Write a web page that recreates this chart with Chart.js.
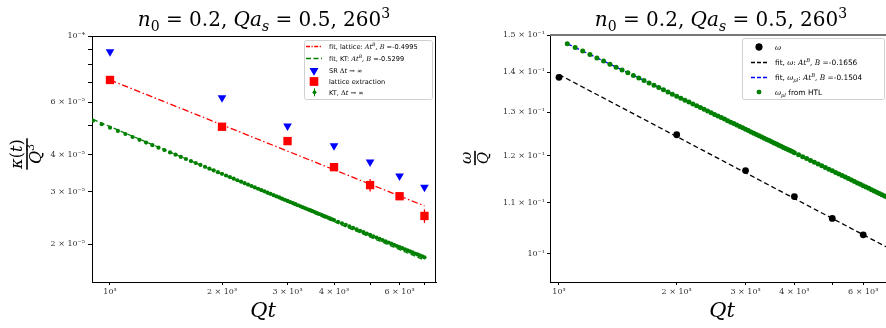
<!DOCTYPE html>
<html>
<head>
<meta charset="utf-8">
<script src="https://cdn.jsdelivr.net/npm/chart.js@4.4.0/dist/chart.umd.min.js"></script>
<style>
html, body { margin: 0; padding: 0; background: #fff; }
#wrap { position: relative; width: 886px; height: 328px; overflow: hidden; }
#left { position: absolute; left: 0; top: 0; }
#right { position: absolute; left: 443px; top: 0; }
</style>
</head>
<body>
<div id="wrap">
<canvas id="left" width="443" height="328"></canvas>
<canvas id="right" width="460" height="328"></canvas>
</div>
<script>
// ---- left panel: kappa(t)/Q^3 ----
const latticeT = [1000, 2000, 3000, 4000, 5000, 6000, 7000];
const srKappa = [8.86e-5, 6.21e-5, 4.99e-5, 4.28e-5, 3.78e-5, 3.39e-5, 3.11e-5];
const latticeKappa = [7.12e-5, 4.96e-5, 4.44e-5, 3.63e-5, 3.16e-5, 2.90e-5, 2.49e-5];
const latticeErr = [0.05e-5, 0.06e-5, 0.08e-5, 0.08e-5, 0.15e-5, 0.06e-5, 0.13e-5];
const fitLatticeT = [1000, 7000];
const fitLatticeKappa = [7.12e-5, 2.69e-5];
const fitKtT = [900, 7000];
const fitKtKappa = [5.25e-5, 1.77e-5];
const ktT = [900, 950, 1000, 1050, 1100, 1150, 1200, 1250, 1300, 1350, 1400, 1450, 1500, 1550, 1600, 1650,
  1700, 1750, 1800, 1850, 1900, 1950, 2000, 2050, 2100, 2150, 2200, 2250, 2300, 2350, 2400, 2450, 2500,
  2550, 2600, 2650, 2700, 2750, 2800, 2850, 2900, 2950, 3000, 3050, 3100, 3150, 3200, 3250, 3300, 3350,
  3400, 3450, 3500, 3550, 3600, 3650, 3700, 3750, 3800, 3850, 3900, 3950, 4000, 4100, 4200, 4300, 4400,
  4500, 4600, 4700, 4800, 4900, 5000, 5100, 5200, 5300, 5400, 5500, 5600, 5700, 5800, 5900, 6000, 6100,
  6200, 6300, 6400, 6500, 6600, 6700, 6800, 6900, 7000];
const ktKappa = [5.200e-5, 5.057e-5, 4.925e-5, 4.803e-5, 4.689e-5, 4.583e-5, 4.484e-5, 4.390e-5, 4.303e-5,
  4.220e-5, 4.142e-5, 4.067e-5, 3.997e-5, 3.930e-5, 3.866e-5, 3.806e-5, 3.748e-5, 3.692e-5, 3.639e-5,
  3.588e-5, 3.539e-5, 3.492e-5, 3.447e-5, 3.403e-5, 3.361e-5, 3.321e-5, 3.281e-5, 3.244e-5, 3.207e-5,
  3.172e-5, 3.138e-5, 3.104e-5, 3.072e-5, 3.041e-5, 3.011e-5, 2.981e-5, 2.953e-5, 2.925e-5, 2.898e-5,
  2.872e-5, 2.846e-5, 2.821e-5, 2.797e-5, 2.773e-5, 2.750e-5, 2.727e-5, 2.705e-5, 2.684e-5, 2.663e-5,
  2.642e-5, 2.622e-5, 2.603e-5, 2.583e-5, 2.565e-5, 2.546e-5, 2.528e-5, 2.511e-5, 2.493e-5, 2.476e-5,
  2.460e-5, 2.443e-5, 2.427e-5, 2.412e-5, 2.381e-5, 2.352e-5, 2.324e-5, 2.296e-5, 2.270e-5, 2.244e-5,
  2.219e-5, 2.196e-5, 2.172e-5, 2.150e-5, 2.128e-5, 2.107e-5, 2.086e-5, 2.066e-5, 2.047e-5, 2.028e-5,
  2.010e-5, 1.992e-5, 1.974e-5, 1.957e-5, 1.941e-5, 1.924e-5, 1.909e-5, 1.893e-5, 1.878e-5, 1.863e-5,
  1.849e-5, 1.835e-5, 1.821e-5, 1.808e-5];

// ---- right panel: omega/Q ----
const omegaT = [1000, 2000, 3000, 4000, 5000, 6000, 7000];
const omega = [0.1387, 0.1247, 0.1167, 0.1112, 0.1068, 0.1036, 0.1004];
const fitOmegaT = [1000, 7000];
const fitOmega = [0.1394, 0.1010];
const fitPlT = [1050, 7000];
const fitPl = [0.1476, 0.1110];
const plT = [1050, 1100, 1150, 1200, 1250, 1300, 1350, 1400, 1450, 1500, 1550, 1600, 1650, 1700, 1750,
  1800, 1850, 1900, 1950, 2000, 2050, 2100, 2150, 2200, 2250, 2300, 2350, 2400, 2450, 2500, 2550, 2600,
  2650, 2700, 2750, 2800, 2850, 2900, 2950, 3000, 3050, 3100, 3150, 3200, 3250, 3300, 3350, 3400, 3450,
  3500, 3550, 3600, 3650, 3700, 3750, 3800, 3850, 3900, 3950, 4000, 4100, 4200, 4300, 4400, 4500, 4600,
  4700, 4800, 4900, 5000, 5100, 5200, 5300, 5400, 5500, 5600, 5700, 5800, 5900, 6000, 6100, 6200, 6300,
  6400, 6500, 6600, 6700, 6800, 6900, 7000, 7100, 7200];
const omegaPl = [0.14760, 0.14657, 0.14559, 0.14466, 0.14377, 0.14292, 0.14211, 0.14133, 0.14058, 0.13987,
  0.13918, 0.13851, 0.13787, 0.13725, 0.13665, 0.13607, 0.13551, 0.13497, 0.13444, 0.13393, 0.13343,
  0.13294, 0.13247, 0.13201, 0.13157, 0.13113, 0.13071, 0.13029, 0.12989, 0.12949, 0.12910, 0.12873,
  0.12836, 0.12800, 0.12764, 0.12730, 0.12696, 0.12662, 0.12630, 0.12598, 0.12566, 0.12536, 0.12505,
  0.12476, 0.12446, 0.12418, 0.12390, 0.12362, 0.12335, 0.12308, 0.12282, 0.12256, 0.12230, 0.12205,
  0.12181, 0.12156, 0.12132, 0.12109, 0.12086, 0.12063, 0.12018, 0.11974, 0.11932, 0.11890, 0.11850,
  0.11811, 0.11773, 0.11735, 0.11699, 0.11663, 0.11629, 0.11594, 0.11561, 0.11529, 0.11497, 0.11465,
  0.11435, 0.11405, 0.11376, 0.11347, 0.11318, 0.11291, 0.11263, 0.11237, 0.11211, 0.11185, 0.11159,
  0.11134, 0.11110, 0.11086, 0.11062, 0.11039];

// ---- ticks ----
const xTicks = [1000, 2000, 3000, 4000, 5000, 6000, 7000];
const xTickLabels = ['10³', '2 × 10³', '3 × 10³', '4 × 10³', '', '6 × 10³', ''];
const leftYTicks = [1e-4, 9e-5, 8e-5, 7e-5, 6e-5, 5e-5, 4e-5, 3e-5, 2e-5];
const leftYLabels = ['10⁻⁴', '', '', '', '6 × 10⁻⁵', '', '4 × 10⁻⁵', '3 × 10⁻⁵', '2 × 10⁻⁵'];
const rightYTicks = [0.15, 0.14, 0.13, 0.12, 0.11, 0.1];
const rightYLabels = ['1.5 × 10⁻¹', '1.4 × 10⁻¹', '1.3 × 10⁻¹', '1.2 × 10⁻¹', '1.1 × 10⁻¹', '10⁻¹'];

const pts = (xs, ys) => xs.map((x, i) => ({ x: x, y: ys[i] }));

// draw a row of text pieces: style letters r=serif, i=italic serif, s=sans, _=sub, ^=sup
function drawRuns(ctx, parts, x, y, size, align) {
  const items = [];
  let w = 0;
  for (const [t, st] of parts) {
    const sub = st.includes('_'), sup = st.includes('^');
    const sz = (sub || sup) ? size * 0.7 : size;
    const fam = st.includes('s') ? '"DejaVu Sans"' : '"DejaVu Serif"';
    const font = (st.includes('i') ? 'italic ' : '') + sz + 'px ' + fam;
    ctx.font = font;
    const tw = ctx.measureText(t).width;
    items.push({ t: t, font: font, dy: sub ? size * 0.25 : (sup ? -size * 0.42 : 0), w: tw });
    w += tw;
  }
  let cx = align === 'center' ? x - w / 2 : x;
  ctx.textAlign = 'left';
  ctx.textBaseline = 'alphabetic';
  for (const it of items) {
    ctx.font = it.font;
    ctx.fillText(it.t, cx, y + it.dy);
    cx += it.w;
  }
  return w;
}

const titleParts = [['n', 'i'], ['0', 'r_'], [' = 0.2, ', 'r'], ['Q', 'i'], ['a', 'i'], ['s', 'i_'],
  [' = 0.5, 260', 'r'], ['3', 'r^']];

function handle(ctx, h, x, y) {
  ctx.save();
  if (h.line) {
    ctx.strokeStyle = h.color;
    ctx.lineWidth = h.width || 1.3;
    ctx.setLineDash(h.dash || []);
    ctx.beginPath();
    ctx.moveTo(x - 8, y);
    ctx.lineTo(x + 8, y);
    ctx.stroke();
  } else {
    ctx.fillStyle = h.color;
    ctx.strokeStyle = h.color;
    if (h.errbar) {
      ctx.lineWidth = 1;
      ctx.beginPath();
      ctx.moveTo(x + 0.5, y - 4);
      ctx.lineTo(x + 0.5, y + 4);
      ctx.stroke();
    }
    Chart.helpers.drawPoint(ctx, { pointStyle: h.style, radius: h.r, rotation: h.rot || 0, borderWidth: 0 }, x + (h.errbar ? 0.5 : 0), y);
    ctx.fill();
  }
  ctx.restore();
}

function drawLegend(ctx, lg) {
  ctx.save();
  ctx.fillStyle = 'rgba(255,255,255,0.85)';
  ctx.strokeStyle = '#d0d0d0';
  ctx.lineWidth = 1;
  ctx.beginPath();
  ctx.roundRect(lg.x + 0.5, lg.y + 0.5, lg.w, lg.h, 2);
  ctx.fill();
  ctx.stroke();
  ctx.fillStyle = '#000';
  lg.rows.forEach(r => {
    handle(ctx, r.h, lg.hx, r.y);
    drawRuns(ctx, r.text, lg.tx, r.y + lg.size * 0.36, lg.size, 'left');
  });
  ctx.restore();
}

function decor(cfg) {
  return {
    id: 'decor',
    afterDatasetsDraw(chart) {
      if (!cfg.errors) return;
      const ctx = chart.ctx, xs = chart.scales.x, ys = chart.scales.y;
      ctx.save();
      ctx.strokeStyle = '#ff0000';
      ctx.lineWidth = 1.3;
      cfg.errors.t.forEach((t, i) => {
        const px = xs.getPixelForValue(t);
        ctx.beginPath();
        ctx.moveTo(px, ys.getPixelForValue(cfg.errors.v[i] - cfg.errors.e[i]));
        ctx.lineTo(px, ys.getPixelForValue(cfg.errors.v[i] + cfg.errors.e[i]));
        ctx.stroke();
      });
      ctx.restore();
    },
    afterDraw(chart) {
      const ctx = chart.ctx, a = chart.chartArea;
      ctx.save();
      // top / right spines
      ctx.strokeStyle = cfg.topColor || '#000';
      ctx.lineWidth = cfg.topWidth || 1;
      ctx.beginPath();
      const L = Math.round(a.left) + 0.5, T = Math.round(a.top) + (cfg.topWidth === 2 ? 0 : 0.5), R = Math.round(a.right) - 0.5;
      ctx.moveTo(L - 0.5, T);
      ctx.lineTo(R, T);
      ctx.stroke();
      ctx.strokeStyle = '#000';
      ctx.lineWidth = 1;
      ctx.beginPath();
      ctx.moveTo(R, Math.round(a.top));
      ctx.lineTo(R, Math.round(a.bottom) + 0.5);
      ctx.stroke();
      // title
      ctx.fillStyle = '#000';
      drawRuns(ctx, titleParts, cfg.titleX, 26, 20, 'center');
      // x label
      ctx.font = 'italic 21px "DejaVu Serif"';
      ctx.textAlign = 'center';
      ctx.textBaseline = 'alphabetic';
      ctx.fillText('Qt', (a.left + a.right) / 2 - 1, 317);
      // y label as fraction, rotated
      ctx.save();
      ctx.translate(cfg.yl.x, cfg.yl.y);
      ctx.rotate(-Math.PI / 2);
      const wn = drawRuns(ctx, cfg.yl.num, -1000, -1000, cfg.yl.size, 'left');
      const wd = drawRuns(ctx, cfg.yl.den, -1000, -1000, cfg.yl.size, 'left');
      ctx.fillStyle = '#000';
      drawRuns(ctx, cfg.yl.num, 0, -cfg.yl.size * 0.3, cfg.yl.size, 'center');
      drawRuns(ctx, cfg.yl.den, 0, cfg.yl.size * 0.85, cfg.yl.size, 'center');
      const bw = Math.max(wn, wd) + 2;
      ctx.fillRect(-bw / 2, -0.8, bw, 1.6);
      ctx.restore();
      drawLegend(ctx, cfg.legend);
      ctx.restore();
    }
  };
}

function logAxis(min, max, ticks, labels, size, tickLen, pad) {
  return {
    type: 'logarithmic',
    min: min,
    max: max,
    bounds: 'data',
    afterBuildTicks: s => { s.ticks = ticks.map(v => ({ value: v })); },
    afterFit: size,
    grid: { drawOnChartArea: false, drawTicks: true, tickLength: tickLen, color: '#000', lineWidth: 1 },
    border: { display: true, color: '#000', width: 1 },
    ticks: {
      autoSkip: false, maxRotation: 0, minRotation: 0, padding: pad,
      color: '#333', font: { family: 'DejaVu Serif', size: 8 },
      callback: (v, i) => labels[i]
    }
  };
}

const common = {
  responsive: false,
  animation: false,
  plugins: { legend: { display: false }, tooltip: { enabled: false } }
};

new Chart(document.getElementById('left'), {
  type: 'scatter',
  data: {
    datasets: [
      { data: pts(latticeT, latticeKappa), pointStyle: 'rect', pointRadius: 5.9, backgroundColor: '#ff0000', borderWidth: 0, pointBorderWidth: 0, order: 0 },
      { data: pts(latticeT, srKappa), pointStyle: 'triangle', rotation: 180, pointRadius: 5, backgroundColor: '#0000ff', borderWidth: 0, pointBorderWidth: 0, order: 1 },
      { data: pts(ktT, ktKappa), pointStyle: 'circle', pointRadius: 2.1, backgroundColor: '#008000', borderWidth: 0, pointBorderWidth: 0, order: 2 },
      { data: pts(fitLatticeT, fitLatticeKappa), showLine: true, pointRadius: 0, borderColor: '#ff0000', borderWidth: 1.3, borderDash: [6.5, 2.5, 1.5, 2.5], order: 3 },
      { data: pts(fitKtT, fitKtKappa), showLine: true, pointRadius: 0, borderColor: '#008000', borderWidth: 1.3, borderDash: [5, 2.5], order: 4 }
    ]
  },
  options: Object.assign({}, common, {
    layout: { padding: { left: 0, right: 7, top: 36, bottom: 0 } },
    scales: {
      x: logAxis(894.6, 7518, xTicks, xTickLabels, s => { s.height = 46; }, 3, 2),
      y: logAxis(1.4947e-5, 1e-4, leftYTicks, leftYLabels, s => { s.width = 92; }, 4, 3)
    }
  }),
  plugins: [decor({
    titleX: 264,
    errors: { t: latticeT, v: latticeKappa, e: latticeErr },
    yl: { x: 27, y: 154, size: 16, num: [['κ', 'i'], ['(', 'r'], ['t', 'i'], [')', 'r']], den: [['Q', 'i'], ['3', 'r^']] },
    legend: {
      x: 304, y: 40, w: 128, h: 59, hx: 314, tx: 329, size: 6.6,
      rows: [
        { y: 46.5, h: { line: true, color: '#ff0000', dash: [4, 1.5, 1.2, 1.5] }, text: [['fit, lattice: ', 's'], ['At', 'i'], ['B', 'i^'], [', ', 'r'], ['B', 'i'], [' =', 'r'], ['-0.4995', 's']] },
        { y: 58.5, h: { line: true, color: '#008000', dash: [5, 2.5] }, text: [['fit, KT: ', 's'], ['At', 'i'], ['B', 'i^'], [', ', 'r'], ['B', 'i'], [' =', 'r'], ['-0.5299', 's']] },
        { y: 70.5, h: { style: 'triangle', rot: 180, r: 5, color: '#0000ff' }, text: [['SR ', 's'], ['Δ', 'r'], ['t', 'i'], [' → ∞', 'r']] },
        { y: 81.5, h: { style: 'rect', r: 5.9, color: '#ff0000' }, text: [['lattice extraction', 's']] },
        { y: 92.3, h: { style: 'circle', r: 1.8, color: '#008000', errbar: true }, text: [['KT, ', 's'], ['Δ', 'r'], ['t', 'i'], [' → ∞', 'r']] }
      ]
    }
  })]
});

new Chart(document.getElementById('right'), {
  type: 'scatter',
  data: {
    datasets: [
      { data: pts(omegaT, omega), pointStyle: 'circle', pointRadius: 3.4, backgroundColor: '#000', borderWidth: 0, pointBorderWidth: 0, order: 0 },
      { data: pts(plT, omegaPl), pointStyle: 'circle', pointRadius: 2.5, backgroundColor: '#008000', borderWidth: 0, pointBorderWidth: 0, order: 1 },
      { data: pts(fitOmegaT, fitOmega), showLine: true, pointRadius: 0, borderColor: '#000', borderWidth: 1.3, borderDash: [5, 3], order: 2 },
      { data: pts(fitPlT, fitPl), showLine: true, pointRadius: 0, borderColor: '#0000ff', borderWidth: 1.3, borderDash: [5, 3], order: 3 }
    ]
  },
  options: Object.assign({}, common, {
    layout: { padding: { left: 0, right: 7, top: 35, bottom: 0 } },
    scales: {
      x: logAxis(948.4, 7277, xTicks.slice(0, 6), xTickLabels, s => { s.height = 46; }, 3, 2),
      y: logAxis(0.09493, 0.15, rightYTicks, rightYLabels, s => { s.width = 107; }, 3, 2)
    }
  }),
  plugins: [decor({
    titleX: 278,
    topColor: '#777',
    topWidth: 2,
    yl: { x: 32, y: 158, size: 15, num: [['ω', 'i']], den: [['Q', 'i']] },
    legend: {
      x: 299, y: 38, w: 142, h: 61, hx: 316, tx: 332, size: 7.4,
      rows: [
        { y: 47, h: { style: 'circle', r: 3.4, color: '#000' }, text: [['ω', 'i']] },
        { y: 62.5, h: { line: true, color: '#000', dash: [4, 2] }, text: [['fit, ', 's'], ['ω', 'i'], [': ', 'r'], ['At', 'i'], ['B', 'i^'], [', ', 'r'], ['B', 'i'], [' =', 'r'], ['-0.1656', 's']] },
        { y: 77.5, h: { line: true, color: '#0000ff', dash: [4, 2] }, text: [['fit, ', 's'], ['ω', 'i'], ['pl', 'i_'], [': ', 'r'], ['At', 'i'], ['B', 'i^'], [', ', 'r'], ['B', 'i'], [' =', 'r'], ['-0.1504', 's']] },
        { y: 92, h: { style: 'circle', r: 2.3, color: '#008000' }, text: [['ω', 'i'], ['pl', 'i_'], [' from HTL', 's']] }
      ]
    }
  })]
});
</script>
</body>
</html>
